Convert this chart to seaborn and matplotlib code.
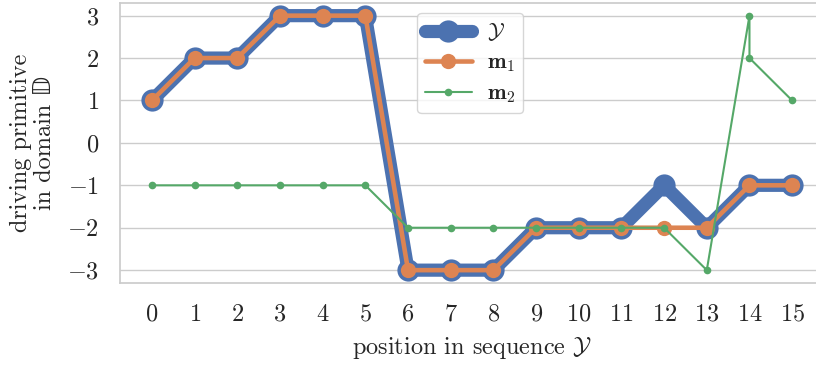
import matplotlib
matplotlib.use("Agg")
import matplotlib.pyplot as plt
import seaborn as sns
import numpy as np

# Sequence positions and driving primitives
positions = list(range(16))
target_y = [1, 2, 2, 3, 3, 3, -3, -3, -3, -2, -2, -2, -1, -2, -1, -1]
m1_vals = [1, 2, 2, 3, 3, 3, -3, -3, -3, -2, -2, -2, -2, -2, -1, -1]
m2_positions = [0, 1, 2, 3, 4, 5, 6, 7, 8, 9, 10, 11, 12, 13, 14, 14, 15]
m2_vals = [-1, -1, -1, -1, -1, -1, -2, -2, -2, -2, -2, -2, -2, -3, 3, 2, 1]
x_ticks = list(range(16))
y_ticks = [-3, -2, -1, 0, 1, 2, 3]

sns.set_theme(style="whitegrid", palette="deep")
plt.rcParams["font.family"] = ["cmr10", "DejaVu Serif"]
plt.rcParams["mathtext.fontset"] = "cm"
plt.rcParams["axes.formatter.use_mathtext"] = True
plt.rcParams["axes.unicode_minus"] = True

FS = 17.5
pal = sns.color_palette("deep")
fig = plt.figure(figsize=(8.16, 3.65), dpi=100)
ax = fig.add_axes([0.147, 0.225, 0.863, 0.767])

sns.lineplot(x=positions, y=target_y, ax=ax, color=pal[0], lw=9.5,
             marker="o", markersize=16, markeredgewidth=0,
             estimator=None, sort=False, label=r"$\mathcal{Y}$")
sns.lineplot(x=positions, y=m1_vals, ax=ax, color=pal[1], lw=3.3,
             marker="o", markersize=11, markeredgewidth=0,
             estimator=None, sort=False, label=r"$\mathbf{m}_1$")
sns.lineplot(x=m2_positions, y=m2_vals, ax=ax, color=pal[2], lw=1.5,
             marker="o", markersize=5.5, markeredgewidth=0,
             estimator=None, sort=False, label=r"$\mathbf{m}_2$")

ax.set_xticks(x_ticks)
ax.set_yticks(y_ticks)
ax.set_xlim(-0.75, 15.75)
ax.set_ylim(-3.3, 3.3)
ax.grid(axis="x", visible=False)
ax.tick_params(labelsize=FS, pad=9)
ax.set_xlabel(r"position in sequence $\mathcal{Y}$", fontsize=FS, labelpad=6)
ax.set_ylabel("driving primitive\nin domain \U0001D53B", fontsize=FS,
              family=["cmr10", "DejaVu Sans"], linespacing=1.12, labelpad=8)

ax.legend(loc="upper left", bbox_to_anchor=(0.422, 0.964), borderaxespad=0,
          fontsize=16, handlelength=2.1, borderpad=0.35, labelspacing=0.45,
          handletextpad=0.7, frameon=True)

fig.savefig("out.png", dpi=100)
